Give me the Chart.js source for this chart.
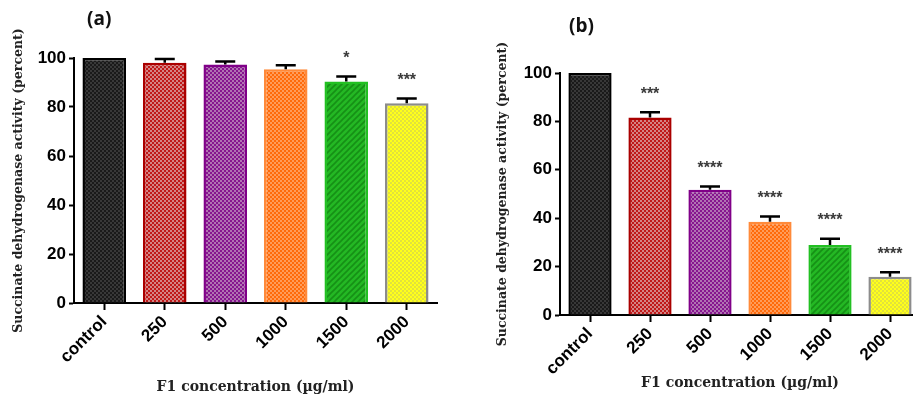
<!DOCTYPE html>
<html>
<head>
<meta charset="utf-8">
<script src="https://cdn.jsdelivr.net/npm/chart.js@4.4.0/dist/chart.umd.min.js"></script>
<style>
  body { margin: 0; width: 913px; height: 399px; overflow: hidden; background: #fff; position: relative; }
  .panel { position: absolute; top: 0; height: 399px; }
  .tag { position: absolute; font: bold 19px "Open Sans", "DejaVu Sans", sans-serif; color: #111; }
</style>
</head>
<body>
<div class="panel" style="left:0;width:460px"><canvas id="chartA"></canvas></div>
<div class="panel" style="left:460px;width:460px"><canvas id="chartB"></canvas></div>
<div class="tag" style="left:87px;top:5px">(a)</div>
<div class="tag" style="left:569px;top:12px">(b)</div>

<script>
// ---- data ----
const categories = ["control", "250", "500", "1000", "1500", "2000"];

const valuesA = [100, 98.1, 97.3, 95.4, 90.4, 81.5];
const errorsA = [0, 1.5, 1.3, 1.6, 2.0, 2.0];
const starsA = ["", "", "", "", "*", "***"];

const valuesB = [100, 81.6, 51.8, 38.5, 28.9, 15.8];
const errorsB = [0, 2.2, 1.3, 2.2, 2.6, 1.9];
const starsB = ["", "***", "****", "****", "****", "****"];

const yTicks = [0, 20, 40, 60, 80, 100];

// ---- fills ----
function checker(base, dot, size) {
    let c = document.createElement("canvas");
    c.width = size * 2; c.height = size * 2;
    let g = c.getContext("2d");
    g.fillStyle = base; g.fillRect(0, 0, c.width, c.height);
    g.fillStyle = dot;
    g.fillRect(0, 0, size, size);
    g.fillRect(size, size, size, size);
    return g.createPattern(c, "repeat");
}
function stripes(base, line) {
    let c = document.createElement("canvas");
    c.width = 6; c.height = 6;
    let g = c.getContext("2d");
    g.fillStyle = base; g.fillRect(0, 0, 6, 6);
    g.strokeStyle = line; g.lineWidth = 1.6;
    g.beginPath();
    g.moveTo(-1, 7); g.lineTo(7, -1);
    g.moveTo(-1, 1); g.lineTo(1, -1);
    g.moveTo(5, 7); g.lineTo(7, 5);
    g.stroke();
    return g.createPattern(c, "repeat");
}

const fills = [
    checker("#1a1a1a", "#383838", 2),
    checker("#c01818", "#d48484", 2),
    checker("#86168f", "#b173b3", 2),
    checker("#ff6a0a", "#ff9c5a", 2),
    stripes("#24b824", "#169016"),
    checker("#ffff1a", "#e2e23c", 2)
];
const borders = ["#000000", "#aa0000", "#800088", "#ff8a3a", "#22c022", "#8c8c8c"];

// ---- plugin: error bars + significance stars ----
const errStars = {
    id: "errStars",
    afterDatasetsDraw(chart, args, opts) {
        let ctx = chart.ctx;
        let meta = chart.getDatasetMeta(0);
        let y = chart.scales.y;
        let vals = chart.data.datasets[0].data;
        ctx.save();
        meta.data.forEach((bar, i) => {
            let top = y.getPixelForValue(vals[i] + opts.errors[i]);
            if (opts.errors[i] > 0) {
                ctx.strokeStyle = "#000";
                ctx.lineWidth = 2.5;
                ctx.beginPath();
                ctx.moveTo(bar.x, bar.y);
                ctx.lineTo(bar.x, top);
                ctx.moveTo(bar.x - 10, top);
                ctx.lineTo(bar.x + 10, top);
                ctx.stroke();
            }
            if (opts.stars[i]) {
                ctx.fillStyle = "#3a3a3a";
                ctx.font = "bold 16px 'Liberation Sans', Arial, sans-serif";
                ctx.textAlign = "center";
                ctx.textBaseline = "middle";
                ctx.fillText(opts.stars[i], bar.x, top - 18);
            }
        });
        ctx.restore();
    }
};

function makeChart(id, values, errors, stars, pad, yWidth, xHeight, yTitlePad, xTitlePad) {
    let ctx = document.getElementById(id).getContext("2d");
    return new Chart(ctx, {
        type: "bar",
        data: {
            labels: categories,
            datasets: [{
                data: values,
                backgroundColor: fills,
                borderColor: borders,
                borderWidth: 2.5,
                borderSkipped: "bottom",
                categoryPercentage: 1,
                barPercentage: 0.72
            }]
        },
        plugins: [errStars],
        options: {
            responsive: false,
            animation: false,
            layout: { padding: pad },
            plugins: {
                legend: { display: false },
                tooltip: { enabled: false },
                errStars: { errors: errors, stars: stars }
            },
            scales: {
                x: {
                    offset: true,
                    afterFit: s => { s.height = xHeight; },
                    grid: {
                        offset: false,
                        drawOnChartArea: false,
                        drawTicks: true,
                        tickLength: 7,
                        tickWidth: 2,
                        tickColor: "#000"
                    },
                    border: { display: true, color: "#000", width: 2 },
                    ticks: {
                        autoSkip: false,
                        minRotation: 45,
                        maxRotation: 45,
                        padding: 2,
                        color: "#000",
                        font: { family: "'Liberation Sans', Arial, sans-serif", size: 17, weight: "bold" }
                    },
                    title: {
                        display: true,
                        text: "F1 concentration (µg/ml)",
                        color: "#222",
                        padding: { top: 0, bottom: xTitlePad },
                        font: { family: "'DejaVu Serif', serif", size: 14, weight: "bold" }
                    }
                },
                y: {
                    min: 0,
                    max: 100,
                    afterFit: s => { s.width = yWidth; },
                    afterBuildTicks: s => { s.ticks = yTicks.map(v => ({ value: v })); },
                    grid: {
                        drawOnChartArea: false,
                        drawTicks: true,
                        tickLength: 5,
                        tickWidth: 2,
                        tickColor: "#000"
                    },
                    border: { display: true, color: "#000", width: 2 },
                    ticks: {
                        padding: 3,
                        color: "#000",
                        font: { family: "'Liberation Sans', Arial, sans-serif", size: 17, weight: "bold" }
                    },
                    title: {
                        display: true,
                        text: "Succinate dehydrogenase activity (percent)",
                        color: "#222",
                        padding: { top: yTitlePad, bottom: 0 },
                        font: { family: "'DejaVu Serif', serif", size: 12.5, weight: "bold" }
                    }
                }
            }
        }
    });
}

document.getElementById("chartA").width = 460;
document.getElementById("chartA").height = 399;
document.getElementById("chartB").width = 460;
document.getElementById("chartB").height = 399;

makeChart("chartA", valuesA, errorsA, starsA,
    { top: 58, right: 23, bottom: 0, left: 0 }, 74, 96, 11, 3);
makeChart("chartB", valuesB, errorsB, starsB,
    { top: 73, right: 0, bottom: 0, left: 0 }, 100, 84, 35, 7);
</script>
</body>
</html>
